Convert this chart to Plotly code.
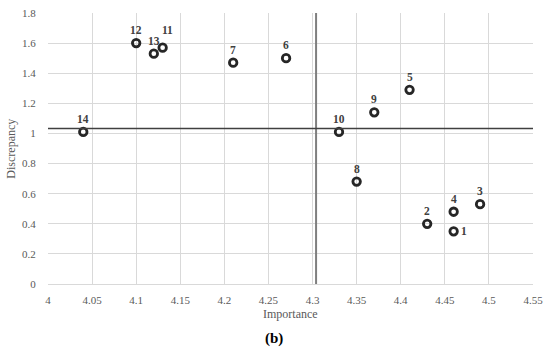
import plotly.graph_objects as go

labels = ["1", "2", "3", "4", "5", "6", "7", "8", "9", "10", "11", "12", "13", "14"]
importance = [4.46, 4.43, 4.49, 4.46, 4.41, 4.27, 4.21, 4.35, 4.37, 4.33, 4.13, 4.10, 4.12, 4.04]
discrepancy = [0.35, 0.40, 0.53, 0.48, 1.29, 1.50, 1.47, 0.68, 1.14, 1.01, 1.57, 1.60, 1.53, 1.01]
x_ref = 4.304
y_ref = 1.033
x_ticks = [4, 4.05, 4.1, 4.15, 4.2, 4.25, 4.3, 4.35, 4.4, 4.45, 4.5, 4.55]
x_tick_text = ["4", "4.05", "4.1", "4.15", "4.2", "4.25", "4.3", "4.35", "4.4", "4.45", "4.5", "4.55"]
y_ticks = [0, 0.2, 0.4, 0.6, 0.8, 1.0, 1.2, 1.4, 1.6, 1.8]
y_tick_text = ["0", "0.2", "0.4", "0.6", "0.8", "1", "1.2", "1.4", "1.6", "1.8"]

# label offsets (style, in pixels)
label_xshift = {"1": 10, "11": 5}
label_yshift = {"1": 0, "11": 18}

FONT = "Liberation Serif"
GRAY = "#595959"

fig = go.Figure()
fig.add_trace(go.Scatter(
    x=importance, y=discrepancy, mode="markers",
    marker=dict(symbol="circle-open", size=7.5, color="#262626", line=dict(width=2.8, color="#262626")),
    hoverinfo="x+y", showlegend=False,
))

for lab, xv, yv in zip(labels, importance, discrepancy):
    fig.add_annotation(
        x=xv, y=yv, text="<b>" + lab + "</b>", showarrow=False,
        xshift=label_xshift.get(lab, 0), yshift=label_yshift.get(lab, 13),
        font=dict(family=FONT, size=11.5, color="#404040"),
        xanchor="center", yanchor="middle",
    )

fig.add_shape(type="line", xref="x", yref="paper", x0=x_ref, x1=x_ref, y0=0, y1=1,
              line=dict(color="#7f7f7f", width=2))
fig.add_shape(type="line", xref="paper", yref="y", x0=0, x1=1, y0=y_ref, y1=y_ref,
              line=dict(color="#404040", width=1.3))

fig.add_annotation(x=0.5, xref="paper", y=-0.112, yref="paper", text="Importance", showarrow=False,
                   font=dict(family=FONT, size=12, color=GRAY), xanchor="center", yanchor="middle")
fig.add_annotation(x=0.467, xref="paper", y=-0.2, yref="paper", text="<b>(b)</b>", showarrow=False,
                   font=dict(family=FONT, size=15, color="black"), xanchor="center", yanchor="middle")
fig.add_annotation(x=-0.078, xref="paper", y=0.5, yref="paper", text="Discrepancy", showarrow=False,
                   textangle=-90, font=dict(family=FONT, size=12, color=GRAY), xanchor="center", yanchor="middle")

fig.update_xaxes(range=[4, 4.55], tickvals=x_ticks, ticktext=x_tick_text,
                 showgrid=True, gridcolor="#d9d9d9", gridwidth=1, zeroline=False,
                 showline=True, linecolor="#d9d9d9", linewidth=1,
                 ticks="outside", ticklen=6, tickcolor="rgba(0,0,0,0)",
                 tickfont=dict(family=FONT, size=11, color=GRAY))
fig.update_yaxes(range=[0, 1.8], tickvals=y_ticks, ticktext=y_tick_text,
                 showgrid=True, gridcolor="#d9d9d9", gridwidth=1, zeroline=False,
                 ticks="outside", ticklen=9, tickcolor="rgba(0,0,0,0)",
                 tickfont=dict(family=FONT, size=11, color=GRAY))

fig.update_layout(width=550, height=348, margin=dict(l=48, r=16, t=7, b=64),
                  plot_bgcolor="white", paper_bgcolor="white", showlegend=False)

fig.write_html("out.html", config={"displayModeBar": False})

# remove default page margins so the figure sits at the window's top-left corner
with open("out.html", "r", encoding="utf-8") as f:
    html = f.read()
html = html.replace("<head>", "<head><style>html,body{margin:0;padding:0;overflow:hidden;}</style>", 1)
with open("out.html", "w", encoding="utf-8") as f:
    f.write(html)
